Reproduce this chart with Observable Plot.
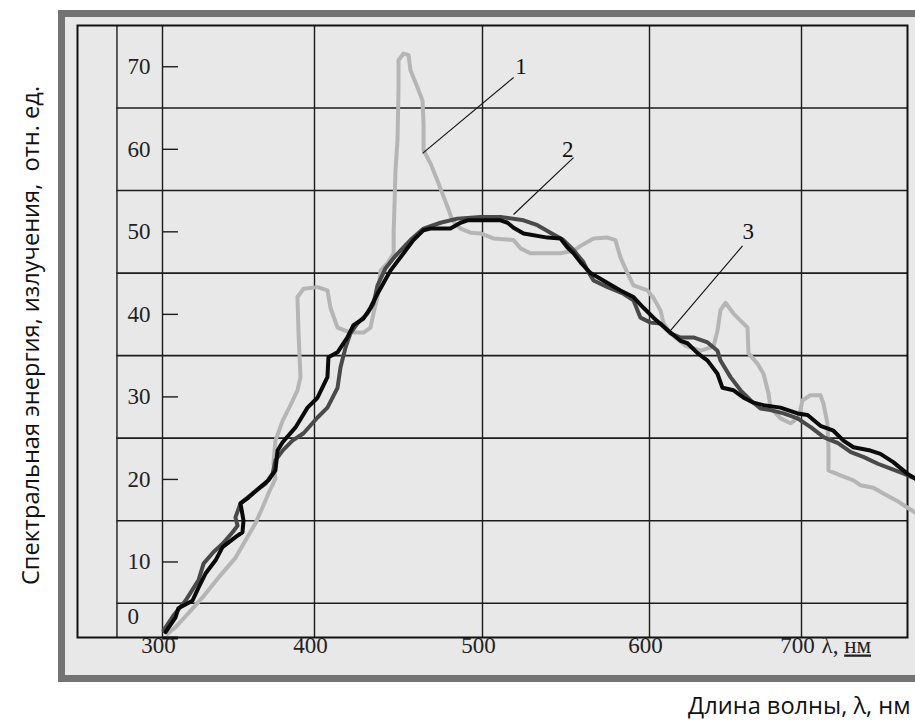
<!DOCTYPE html>
<html>
<head>
<meta charset="utf-8">
<script src="https://cdn.jsdelivr.net/npm/d3@7"></script>
<script src="https://cdn.jsdelivr.net/npm/@observablehq/plot@0.6"></script>
<style>
  html, body { margin: 0; padding: 0; background: #fff; }
  #chart svg { display: block; }
</style>
</head>
<body>
<div id="chart"></div>
<script>
// Axis ticks and grid (wavelength in nm, energy in relative units)
const xTicks = [300, 400, 500, 600, 700];
const xUnit = "λ, нм";
const yTicks = [0, 10, 20, 30, 40, 50, 60, 70];
const yGrid = [5, 15, 25, 35, 45, 55, 65];
const labelColumnEdge = 270;          // separator line of the value column, nm
const xTitle = "Длина волны, λ, нм";
const yTitle = "Спектральная энергия, излучения,\u00a0 отн. ед.";

// Curve 1 (light gray)
const wavelength1 = [303.3,308.6,317.1,326.3,336.8,348,354.6,361.2,365.8,369.7,374.3,373,374.3,379,384.2,388.8,390.8,389.5,388.8,392.8,401.8,407.7,409.5,413.7,421.4,429.2,433.3,435.1,437.5,439.3,443.5,447.1,447.1,447.7,448.2,449.4,450,450,453,456,457.1,461.3,464.3,464.9,464.9,469,473.2,476.2,479.2,482.1,486.9,492.9,498.8,506.6,518.6,522.8,528.7,546.7,554.5,558.7,566.5,574.9,579.6,582.6,586.8,590.4,598.8,602.6,607.2,609.2,613.8,623.7,633.6,642.1,644.7,646.7,650,655.3,664.5,665.1,671.1,675,678.3,679.6,686.2,692.8,698,700.7,705.9,712.5,714.5,717.1,717.8,717.8,725.7,734.3,738.9,747.5,754.1,763.2,769.8,775.1];
const energy1 = [1.3,2.1,3.8,5.7,8.1,10.5,12.6,14.7,16.6,18.3,20.1,21.9,24.7,27.1,29.0,30.8,32.4,37.7,42.1,43.1,43.3,42.9,40.8,38.4,37.8,37.8,38.4,40.1,42.1,45.3,46.2,47.4,49.8,53.8,57.4,61.1,67.1,70.8,71.6,71.4,69.6,67.5,65.9,63.1,59.9,58.3,56.2,54.6,53.0,51.4,50.4,49.9,49.8,49.2,49.0,48.0,47.4,47.4,47.7,48.3,49.2,49.3,49.0,46.9,45.0,43.5,42.9,42.0,40.5,39.0,37.7,36.2,35.6,36.1,38.0,40.5,41.4,40.1,38.4,35.3,34.0,32.8,30.4,28.7,27.4,26.8,27.5,29.6,30.2,30.2,29.2,26.8,23.9,21.1,20.5,19.9,19.3,19.0,18.3,17.4,16.6,16.0];

// Curve 2 (dark gray)
const wavelength2 = [300.7,307.2,315.1,323.7,327,333.6,339.5,346.1,349.4,348,351.3,359.2,367.8,372.4,374.3,379,385.5,392.8,401.8,407.7,413.7,415.5,418.5,421.4,425.6,431.5,435.1,437.5,442.3,448.2,457.1,464.9,475,485.1,498.8,510.8,524.6,532.9,540.7,548.5,554.5,560.5,562.9,566.5,574.9,584.4,590.4,594.6,600.7,607.2,613.8,620.4,628.9,638.2,644.7,646.7,653.3,659.9,666.4,673,679.6,688.2,697.4,706.3,714.9,724.1,732.6,741.2,750.4,758.9,767.5,775.1];
const energy2 = [1.7,3.5,5.3,7.8,9.8,11.2,12.2,13.6,14.4,15.4,17.1,18.3,19.5,20.7,22.3,23.5,24.7,25.6,27.5,28.7,31.1,33.6,36.0,37.7,38.9,40.1,41.3,43.5,45.6,47.1,49.0,50.4,51.1,51.6,51.8,51.8,51.4,50.8,49.9,49.0,47.8,46.3,45.3,44.1,43.3,42.5,41.7,39.6,39.0,38.9,37.7,37.2,37.2,36.6,35.6,34.4,32.4,30.8,29.6,28.6,28.4,28.0,27.4,26.3,25.1,24.4,23.3,22.7,21.9,21.3,20.7,20.1];

// Curve 3 (black)
const wavelength3 = [302,308.6,310.5,319.7,323.7,328.3,334.9,339.5,348,352.6,353.3,351.3,356.6,363.2,369.7,374.3,375.7,379,387.5,395.4,401.8,407.7,408.3,413.7,419.6,423.2,429.2,433.3,437.5,441.1,445.2,453,458.9,464.9,469,480.9,486.9,491.1,498.8,510.8,515,518.6,524.6,538.9,546.7,550.9,554.5,558.7,564.7,574.9,582.6,590.4,596.4,602.6,611.8,620.4,625,631.6,638.2,644.7,648,655.3,661.9,668.4,675,686.2,697.4,704,712.5,721.1,727.7,734.3,745.5,752.1,760.6,769.8,775.1];
const energy3 = [1.5,3.3,4.4,5.3,6.9,8.6,10.2,11.8,13.0,13.6,15.0,17.1,17.8,18.9,19.9,21.1,23.5,24.5,26.3,28.7,29.9,32.4,34.8,35.4,37.2,38.7,39.5,40.8,42.5,43.8,45.3,47.4,49.0,50.2,50.4,50.4,51.1,51.4,51.4,51.4,51.1,50.5,49.8,49.3,49.2,48.1,47.4,46.3,45.0,43.8,42.9,42.1,40.8,39.6,38.1,36.8,36.5,35.3,34.4,32.8,31.1,30.8,29.9,29.3,29.0,28.7,28.0,27.8,26.5,25.9,24.7,23.9,23.5,23.1,22.1,20.7,20.1];

// Curve numbers and their leader lines
const curveNames = ["1", "2", "3"];
const nameWavelength = [523, 551, 665];
const nameEnergy = [70, 60, 50];
const leaderFromWavelength = [518.6, 554.5, 661.2];
const leaderFromEnergy = [68.7, 59.0, 48.3];
const leaderToWavelength = [464.3, 518.6, 613.2];
const leaderToEnergy = [59.5, 52.1, 37.9];

const toRows = (wl, e) => wl.map((w, i) => ({wl: w, e: e[i]}));
const series1 = toRows(wavelength1, energy1);
const series2 = toRows(wavelength2, energy2);
const series3 = toRows(wavelength3, energy3);
const names = curveNames.map((n, i) => ({n, wl: nameWavelength[i], e: nameEnergy[i]}));
const leaders = curveNames.map((n, i) => ({
  x1: leaderFromWavelength[i], y1: leaderFromEnergy[i],
  x2: leaderToWavelength[i], y2: leaderToEnergy[i]
}));

const serif = "'Liberation Serif', 'Times New Roman', serif";
const sans = "'Open Sans', 'Noto Sans', sans-serif";
const ink = "#1c1c1c";
const labelSize = 23;
const titleSize = 23.6;

const chart = Plot.plot({
  width: 915,
  height: 720,
  marginLeft: 77,
  marginRight: 8,
  marginTop: 25,
  marginBottom: 83,
  style: {background: "#ffffff", fontFamily: serif},
  x: {
    type: "linear",
    domain: [244, 300, 400, 500, 600, 700, 770],
    range: [77, 162, 314, 482, 649, 801, 907],
    axis: null
  },
  y: {type: "linear", domain: [0, 75], range: [644, 25], axis: null},
  marks: [
    // panel with its raised gray border
    Plot.frame({fill: "#e8e8e8", stroke: "#737373", strokeWidth: 7,
      insetLeft: -16, insetTop: -12, insetBottom: -41, insetRight: -20}),
    // grid
    Plot.ruleX([labelColumnEdge, ...xTicks], {stroke: ink, strokeWidth: 1.4}),
    Plot.ruleY(yGrid, {x1: labelColumnEdge, x2: 770, stroke: ink, strokeWidth: 1.6}),
    Plot.frame({stroke: "#111", strokeWidth: 2}),
    // value ticks on the 300 nm line
    Plot.ruleY(yTicks.filter(d => d > 0), {x1: xTicks[0], x2: xTicks[0] + 10.5, stroke: ink, strokeWidth: 1.4}),
    Plot.ruleY(yTicks.filter(d => d === 0), {x1: xTicks[0], x2: xTicks[0] + 10.5, dy: -6.5, stroke: "#111", strokeWidth: 3}),
    // spectra
    Plot.line(series1, {x: "wl", y: "e", stroke: "#b5b5b5", strokeWidth: 4, strokeLinejoin: "round", strokeLinecap: "round"}),
    Plot.line(series2, {x: "wl", y: "e", stroke: "#4a4a4a", strokeWidth: 4, strokeLinejoin: "round", strokeLinecap: "round"}),
    Plot.line(series3, {x: "wl", y: "e", stroke: "#0a0a0a", strokeWidth: 4, strokeLinejoin: "round", strokeLinecap: "round"}),
    // curve numbers
    Plot.link(leaders, {x1: "x1", y1: "y1", x2: "x2", y2: "y2", stroke: "#111", strokeWidth: 1.1}),
    Plot.text(names, {x: "wl", y: "e", text: "n", fontSize: labelSize, fill: "#111", fontFamily: serif}),
    // value labels
    Plot.text(yTicks.filter(d => d > 0), {x: xTicks[0], y: d => d, text: d => String(d), dx: -35, textAnchor: "start", fontSize: labelSize, fill: "#222", fontFamily: serif}),
    Plot.text(yTicks.filter(d => d === 0), {x: xTicks[0], y: d => d, text: d => String(d), dx: -35, dy: -28, textAnchor: "start", fontSize: labelSize, fill: "#222", fontFamily: serif}),
    // wavelength labels
    Plot.text(xTicks, {x: d => d, frameAnchor: "bottom", text: d => String(d), dx: -4, dy: 15, fontSize: labelSize, fill: "#222", fontFamily: serif}),
    Plot.text([xUnit], {x: xTicks[xTicks.length - 1], frameAnchor: "bottom", text: d => d, dx: 20, dy: 15, textAnchor: "start", fontSize: labelSize, fill: "#222", fontFamily: serif}),
    // axis titles
    Plot.text([xTitle], {frameAnchor: "bottom-right", text: d => d, textAnchor: "end", lineAnchor: "middle", dx: 3, dy: 69, fontSize: titleSize, fill: "#111", fontFamily: sans}),
    Plot.text([yTitle], {frameAnchor: "left", text: d => d, rotate: -90, textAnchor: "middle", lineAnchor: "middle", dx: -46, dy: 4, fontSize: titleSize, fill: "#111", fontFamily: sans})
  ]
});

// wavy underline under the unit, as in the source typesetting
d3.select(chart).selectAll("text")
  .filter(function() { return this.textContent === xUnit; })
  .each(function() {
    const t = d3.select(this);
    t.text("λ, ");
    t.append("tspan").text("нм")
      .style("text-decoration-line", "underline")
      .style("text-decoration-style", "wavy")
      .style("text-decoration-color", "#9a9a9a");
  });

document.getElementById("chart").append(chart);
</script>
</body>
</html>
